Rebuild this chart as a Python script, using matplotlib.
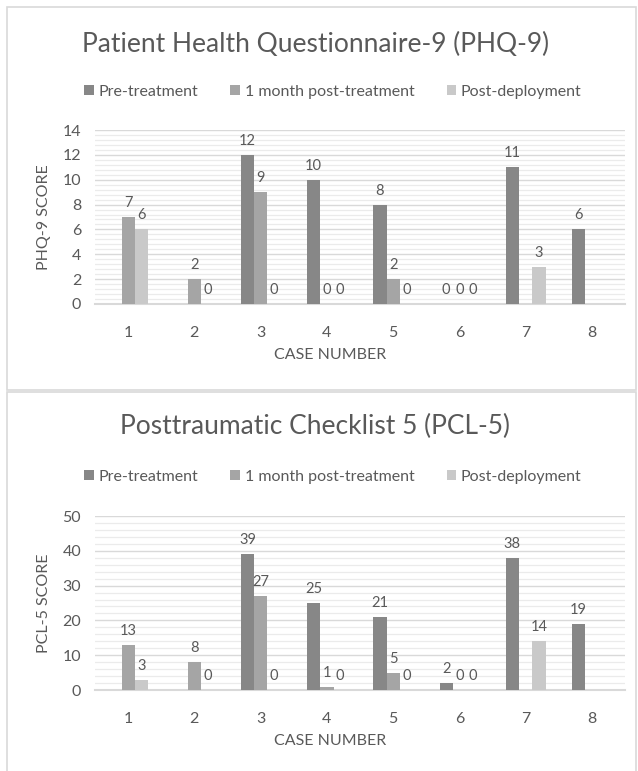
import numpy as np
import matplotlib
matplotlib.use("Agg")
import matplotlib.pyplot as plt
from matplotlib.patches import Rectangle, Patch
from matplotlib.ticker import MultipleLocator

plt.rcParams['font.family'] = ['Lato', 'DejaVu Sans']

cases = ['1', '2', '3', '4', '5', '6', '7', '8']
series_names = ['Pre-treatment', '1 month post-treatment', 'Post-deployment']
colors = ['#878787', '#a5a5a5', '#c9c9c9']
nan = np.nan

phq_pre = [nan, nan, 12, 10, 8, 0, 11, 6]
phq_1m = [7, 2, 9, 0, 2, 0, nan, nan]
phq_post = [6, 0, 0, 0, 0, 0, 3, nan]

pcl_pre = [nan, nan, 39, 25, 21, 2, 38, 19]
pcl_1m = [13, 8, 27, 1, 5, 0, nan, nan]
pcl_post = [3, 0, 0, 0, 0, 0, 14, nan]

TXT = '#595959'
W, H = 638, 771
fig = plt.figure(figsize=(W / 100, H / 100), dpi=100)

# panel borders
for (y0, y1) in [(7, 390), (392, 775)]:
    fig.patches.append(Rectangle((7 / W, 1 - y1 / H), (636 - 7) / W, (y1 - y0) / H,
                                 transform=fig.transFigure, fill=False,
                                 edgecolor='#d9d9d9', linewidth=1.2))


def panel(top_px, bottom_px, title, title_y, legend_y, data, ymax, major, minor, ylabel):
    ax = fig.add_axes([95 / W, 1 - bottom_px / H, (625 - 95) / W, (bottom_px - top_px) / H])
    x = np.arange(1, len(cases) + 1)
    bw = 0.2
    for i, (vals, c) in enumerate(zip(data, colors)):
        vals = np.array(vals, dtype=float)
        pos = x + (i - 1) * bw
        ax.bar(pos, vals, width=bw, color=c, zorder=3, linewidth=0)
        for p, v in zip(pos, vals):
            if not np.isnan(v):
                ax.annotate(f'{int(v)}', (p, v), xytext=(0, 5), textcoords='offset points',
                            ha='center', va='bottom', fontsize=10.5, color=TXT)
    ax.set_xlim(0.5, len(cases) + 0.5)
    ax.set_ylim(0, ymax)
    ax.yaxis.set_major_locator(MultipleLocator(major))
    ax.yaxis.set_minor_locator(MultipleLocator(minor))
    ax.grid(axis='y', which='major', color='#d9d9d9', linewidth=1.0, zorder=0)
    ax.grid(axis='y', which='minor', color='#ebebeb', linewidth=0.9, zorder=0)
    ax.set_axisbelow(True)
    for s in ['top', 'right', 'left']:
        ax.spines[s].set_visible(False)
    ax.spines['bottom'].set_color('#d9d9d9')
    ax.spines['bottom'].set_linewidth(1.5)
    ax.set_xticks(x)
    ax.set_xticklabels(cases)
    ax.tick_params(axis='both', which='both', length=0, colors=TXT, labelsize=11.5)
    ax.tick_params(axis='x', pad=16)
    ax.tick_params(axis='y', pad=10)
    ax.set_xlabel('CASE NUMBER', color=TXT, fontsize=11.5)
    ax.xaxis.set_label_coords((330 - 95) / (625 - 95), -51 / (bottom_px - top_px))
    ax.xaxis.label.set_va('center')
    ax.set_ylabel(ylabel, color=TXT, fontsize=11.5, labelpad=8)
    fig.text(0.5 * (7 + 636) / W - 0.01, 1 - title_y / H, title, ha='center', va='center',
             fontsize=19, color=TXT)
    handles = [Patch(facecolor=c, edgecolor='none') for c in colors]
    fig.legend(handles, series_names, loc='center', bbox_to_anchor=(333 / W, 1 - legend_y / H),
               ncol=3, frameon=False, fontsize=11.5, labelcolor=TXT, handlelength=0.6,
               handleheight=0.6, handletextpad=0.3, columnspacing=2.0)
    return ax


panel(130, 304, 'Patient Health Questionnaire-9 (PHQ-9)', 44, 92,
      [phq_pre, phq_1m, phq_post], 14, 2, 0.4, 'PHQ-9 SCORE')
panel(516, 690, 'Posttraumatic Checklist 5 (PCL-5)', 426, 477,
      [pcl_pre, pcl_1m, pcl_post], 50, 10, 2, 'PCL-5 SCORE')

fig.savefig('out.png', dpi=100, facecolor='white')
